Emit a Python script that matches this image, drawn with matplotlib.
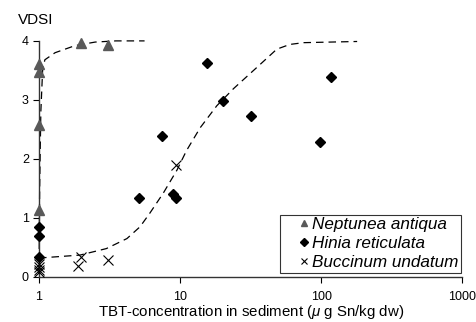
import matplotlib
matplotlib.use("Agg")
import matplotlib.pyplot as plt
from matplotlib.ticker import FixedLocator, NullLocator

plt.rcParams['font.family'] = ['Liberation Sans', 'DejaVu Sans']
plt.rcParams['mathtext.fontset'] = 'custom'
plt.rcParams['mathtext.it'] = 'Liberation Sans:italic'
plt.rcParams['mathtext.rm'] = 'Liberation Sans'

# Neptunea antiqua
nep_x = [1, 1, 1, 1, 2.0, 3.1]
nep_y = [1.13, 2.58, 3.48, 3.61, 3.97, 3.93]
# Hinia reticulata
hin_x = [1, 1, 1, 5.1, 7.4, 8.9, 9.4, 15.6, 20.3, 32, 98, 118]
hin_y = [0.84, 0.69, 0.34, 1.33, 2.38, 1.40, 1.34, 3.62, 2.98, 2.72, 2.29, 3.38]
# Buccinum undatum
buc_x = [1, 1, 1, 1, 1.88, 2.0, 3.1, 9.3]
buc_y = [0.08, 0.12, 0.17, 0.22, 0.19, 0.33, 0.29, 1.89]

# fitted curves
nep_fit_x = [1.0, 1.01, 1.03, 1.06, 1.1, 1.3, 1.8, 2.5, 3.5, 5.6]
nep_fit_y = [0.05, 1.5, 2.8, 3.5, 3.68, 3.8, 3.92, 3.98, 4.0, 4.0]
hin_fit_x = [1.0, 1.95, 3.0, 4.2, 5.2, 6.1, 7.6, 9.5, 11.1, 13.9, 18.2, 23.9, 35, 48.5, 60, 75, 180]
hin_fit_y = [0.32, 0.37, 0.48, 0.65, 0.85, 1.08, 1.42, 1.81, 2.14, 2.53, 2.9, 3.19, 3.55, 3.86, 3.94, 3.97, 3.99]

xticks = [1, 10, 100, 1000]
xticklabels = ["1", "10", "100", "1000"]
yticks = [0, 1, 2, 3, 4]

fig = plt.figure(figsize=(4.76, 3.22), dpi=100)
ax = fig.add_axes([0.082, 0.14, 0.889, 0.733])

ax.plot(nep_fit_x, nep_fit_y, color='black', lw=0.9, ls=(0, (6, 4)), zorder=2, clip_on=False)
ax.plot(hin_fit_x, hin_fit_y, color='black', lw=0.9, ls=(0, (6, 4)), zorder=2, clip_on=False)

ax.plot(nep_x, nep_y, ls='none', marker='^', ms=7, color='#595959', label='Neptunea antiqua', zorder=3, clip_on=False)
ax.plot(hin_x, hin_y, ls='none', marker='D', ms=5.2, color='black', label='Hinia reticulata', zorder=3, clip_on=False)
ax.plot(buc_x, buc_y, ls='none', marker='x', ms=7, mew=0.8, color='black', label='Buccinum undatum', zorder=3, clip_on=False)

ax.set_xscale('log')
ax.set_xlim(1, 1000)
ax.set_ylim(0, 4)
ax.xaxis.set_major_locator(FixedLocator(xticks))
ax.xaxis.set_minor_locator(NullLocator())
ax.set_xticklabels(xticklabels)
ax.set_yticks(yticks)
ax.tick_params(axis='both', labelsize=9, length=4.3, width=0.8, direction='out')
ax.tick_params(axis='x', pad=6)
ax.tick_params(axis='y', pad=3)

for s in ['top', 'right']:
    ax.spines[s].set_visible(False)
for s in ['left', 'bottom']:
    ax.spines[s].set_color('#333333')
    ax.spines[s].set_linewidth(1.0)

ax.set_xlabel('TBT-concentration in sediment ($\\mathit{\\mu}$ g Sn/kg dw)', fontsize=10.8, labelpad=0)
fig.text(18/476, 1 - 19.5/322, 'VDSI', fontsize=11, va='center', ha='left')

leg = ax.legend(loc='lower right', bbox_to_anchor=(0.997, 0.017), prop={'style': 'italic', 'size': 12.3},
                frameon=True, fancybox=False, edgecolor='black', handlelength=2.49,
                handletextpad=-0.78, borderpad=0.16, labelspacing=0.23, markerscale=0.7,
                borderaxespad=0)
leg.get_frame().set_linewidth(0.8)

fig.savefig('out.png', dpi=100)
